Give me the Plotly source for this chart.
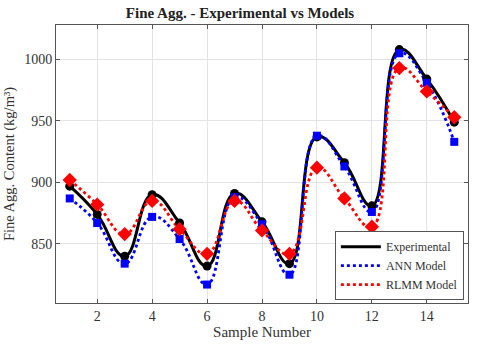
import plotly.graph_objects as go

samples = list(range(1, 16))
experimental = [897, 874, 840, 890, 867, 832, 891, 868, 834, 937, 916, 881, 1008, 984, 949]
ann_model = [887, 867, 834, 872, 854, 817, 888, 866, 825, 938, 913, 876, 1005, 981, 933]
rlmm_model = [902, 882, 858, 885, 862, 842, 885, 861, 842, 912, 887, 864, 993, 974, 953]
x_ticks = [2, 4, 6, 8, 10, 12, 14]
y_ticks = [850, 900, 950, 1000]

font_family = "Times New Roman, Liberation Serif, DejaVu Serif, serif"

series = [
    ("Experimental", experimental, "black", "solid", 3, "circle", 9),
    ("ANN Model", ann_model, "blue", "dot", 2.8, "square", 8),
    ("RLMM Model", rlmm_model, "red", "dot", 2.8, "diamond", 11),
]

fig = go.Figure()
for name, vals, color, dash, width, sym, msize in series:
    fig.add_trace(go.Scatter(
        x=samples, y=vals, mode="lines", name=name,
        line=dict(color=color, dash=dash, width=width, shape="spline", smoothing=1.3),
    ))
for name, vals, color, dash, width, sym, msize in series:
    fig.add_trace(go.Scatter(
        x=samples, y=vals, mode="markers", name=name, showlegend=False,
        marker=dict(color=color, symbol=sym, size=msize),
    ))

axis_common = dict(
    showline=True, linecolor="#555555", linewidth=1, mirror="ticks",
    ticks="inside", ticklen=4, tickcolor="#555555",
    showgrid=True, gridcolor="#e3e3e3", gridwidth=1, zeroline=False,
    automargin=False,
    tickfont=dict(family=font_family, size=14, color="#333333"),
)

fig.update_layout(
    width=480, height=347,
    margin=dict(l=56, r=12, t=25, b=44),
    paper_bgcolor="white", plot_bgcolor="white",
    font=dict(family=font_family, color="#333333"),
    title=dict(text="<b>Fine Agg. - Experimental vs Models</b>", x=0.5, xanchor="center",
               y=0.978, yanchor="top",
               font=dict(family=font_family, size=15, color="#222222")),
    xaxis=dict(range=[0.5, 15.5], tickvals=x_ticks,
               title=dict(text="Sample Number", font=dict(family=font_family, size=15, color="#333333"), standoff=2),
               **axis_common),
    yaxis=dict(range=[802, 1028], tickvals=y_ticks,
               title=dict(text="Fine Agg. Content (kg/m³)", font=dict(family=font_family, size=14.5, color="#333333"), standoff=6),
               **axis_common),
    legend=dict(x=0.99, y=0.01, xanchor="right", yanchor="bottom",
                bgcolor="white", bordercolor="#555555", borderwidth=1,
                font=dict(family=font_family, size=12, color="#333333"),
                tracegroupgap=0, itemwidth=40),
    showlegend=True,
)

fig.write_html("out.html", config={"displayModeBar": False},
               post_script="document.body.style.margin='0';document.body.style.overflow='hidden';")
